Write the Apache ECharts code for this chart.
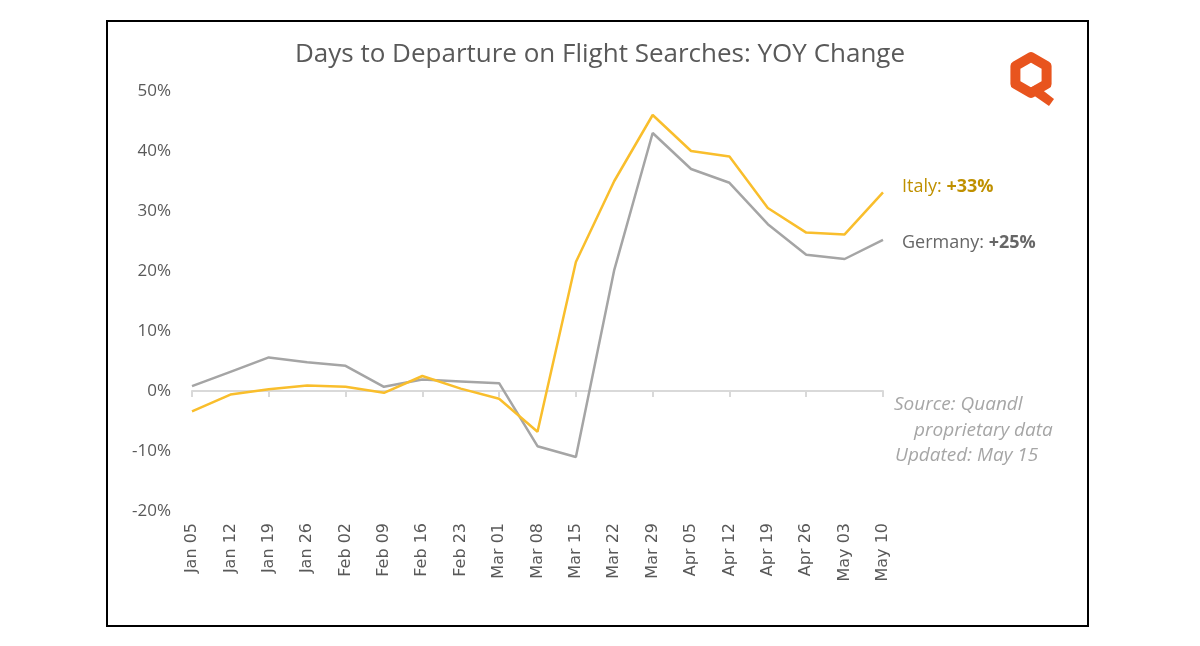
<!DOCTYPE html>
<html>
<head>
<meta charset="utf-8">
<script src="https://cdn.jsdelivr.net/npm/echarts@6/dist/echarts.min.js"></script>
<style>
html,body{margin:0;padding:0;background:#fff;}
#chart{width:1200px;height:646px;}
</style>
</head>
<body>
<div id="chart"></div>
<script>
const categories = ['Jan 05','Jan 12','Jan 19','Jan 26','Feb 02','Feb 09','Feb 16','Feb 23','Mar 01','Mar 08','Mar 15','Mar 22','Mar 29','Apr 05','Apr 12','Apr 19','Apr 26','May 03','May 10'];
const germany = [0.8, 3.2, 5.6, 4.8, 4.2, 0.7, 1.9, 1.6, 1.3, -9.2, -11.0, 20.2, 43.0, 37.0, 34.7, 27.8, 22.7, 22.0, 25.2];
const italy = [-3.4, -0.6, 0.3, 0.9, 0.7, -0.3, 2.5, 0.4, -1.3, -6.8, 21.5, 35.0, 46.0, 40.0, 39.1, 30.5, 26.4, 26.1, 33.1];
const yTicks = {min: -20, max: 50, interval: 10};
const titleText = 'Days to Departure on Flight Searches: YOY Change';
const sourceLines = ['Source: Quandl', 'proprietary data', 'Updated: May 15'];

const chart = echarts.init(document.getElementById('chart'));

function hexPoints(cx, cy, r) {
  const pts = [];
  for (let i = 0; i < 6; i++) {
    const a = -Math.PI / 2 + i * Math.PI / 3;
    pts.push([cx + r * Math.cos(a), cy + r * Math.sin(a)]);
  }
  return pts;
}

const sourceX = [894, 914, 895];
const sourceY = [395, 421, 446];

chart.setOption({
  backgroundColor: '#fff',
  animation: false,
  title: {
    text: titleText,
    left: 595,
    textAlign: 'center',
    top: 37,
    textStyle: {fontFamily: 'Open Sans', fontSize: 26, fontWeight: 'normal', color: '#595959'}
  },
  grid: {left: 192, right: 317, top: 91, bottom: 135},
  xAxis: [{
    type: 'category',
    data: categories,
    boundaryGap: false,
    position: 'bottom',
    axisLine: {show: false, onZero: false},
    axisTick: {show: false},
    axisLabel: {rotate: 90, margin: 12, fontFamily: 'DejaVu Sans', fontSize: 16, color: '#595959'}
  }, {
    type: 'category',
    data: categories,
    boundaryGap: false,
    position: 'top',
    axisLine: {show: true, onZero: true, lineStyle: {color: '#D9D9D9', width: 2}},
    axisTick: {show: true, inside: true, length: 6, lineStyle: {color: '#D9D9D9', width: 2}},
    axisLabel: {show: false}
  }],
  yAxis: {
    type: 'value',
    min: yTicks.min, max: yTicks.max, interval: yTicks.interval,
    axisLine: {show: false},
    axisTick: {show: false},
    splitLine: {show: false},
    axisLabel: {formatter: '{value}%', margin: 21, fontFamily: 'Open Sans', fontSize: 17, color: '#595959'}
  },
  series: [{
    name: 'Germany',
    type: 'line',
    data: germany,
    symbol: 'none',
    lineStyle: {color: '#A5A5A5', width: 2.5},
    endLabel: {
      show: true,
      distance: 0,
      offset: [19, 3],
      formatter: function (p) { return '{n|Germany: }{b|+' + Math.round(p.value) + '%}'; },
      rich: {
        n: {fontFamily: 'Open Sans', fontSize: 18, color: '#666666'},
        b: {fontFamily: 'Open Sans', fontSize: 18, fontWeight: 'bold', color: '#666666'}
      }
    }
  }, {
    name: 'Italy',
    type: 'line',
    data: italy,
    symbol: 'none',
    lineStyle: {color: '#F9BE2C', width: 2.5},
    endLabel: {
      show: true,
      distance: 0,
      offset: [19, -6],
      formatter: function (p) { return '{n|Italy: }{b|+' + Math.round(p.value) + '%}'; },
      rich: {
        n: {fontFamily: 'Open Sans', fontSize: 18, color: '#BF9000'},
        b: {fontFamily: 'Open Sans', fontSize: 18, fontWeight: 'bold', color: '#BF9000'}
      }
    }
  }],
  graphic: [
    {type: 'rect', shape: {x: 107, y: 21, width: 981, height: 605}, style: {fill: 'none', stroke: '#000', lineWidth: 2}, silent: true},
    {type: 'polygon', shape: {points: hexPoints(1031, 75, 18)}, style: {fill: 'none', stroke: '#E8541E', lineWidth: 10, lineJoin: 'round'}},
    {type: 'polygon', shape: {points: [[1026, 90], [1036, 85], [1054, 99], [1049, 106]]}, style: {fill: '#E8541E'}}
  ].concat(sourceLines.map(function (t, i) {
    return {type: 'text', x: sourceX[i], y: sourceY[i], style: {text: t, fontFamily: 'Open Sans', fontStyle: 'italic', fontSize: 19, fill: '#A6A6A6'}};
  }))
});
</script>
</body>
</html>
